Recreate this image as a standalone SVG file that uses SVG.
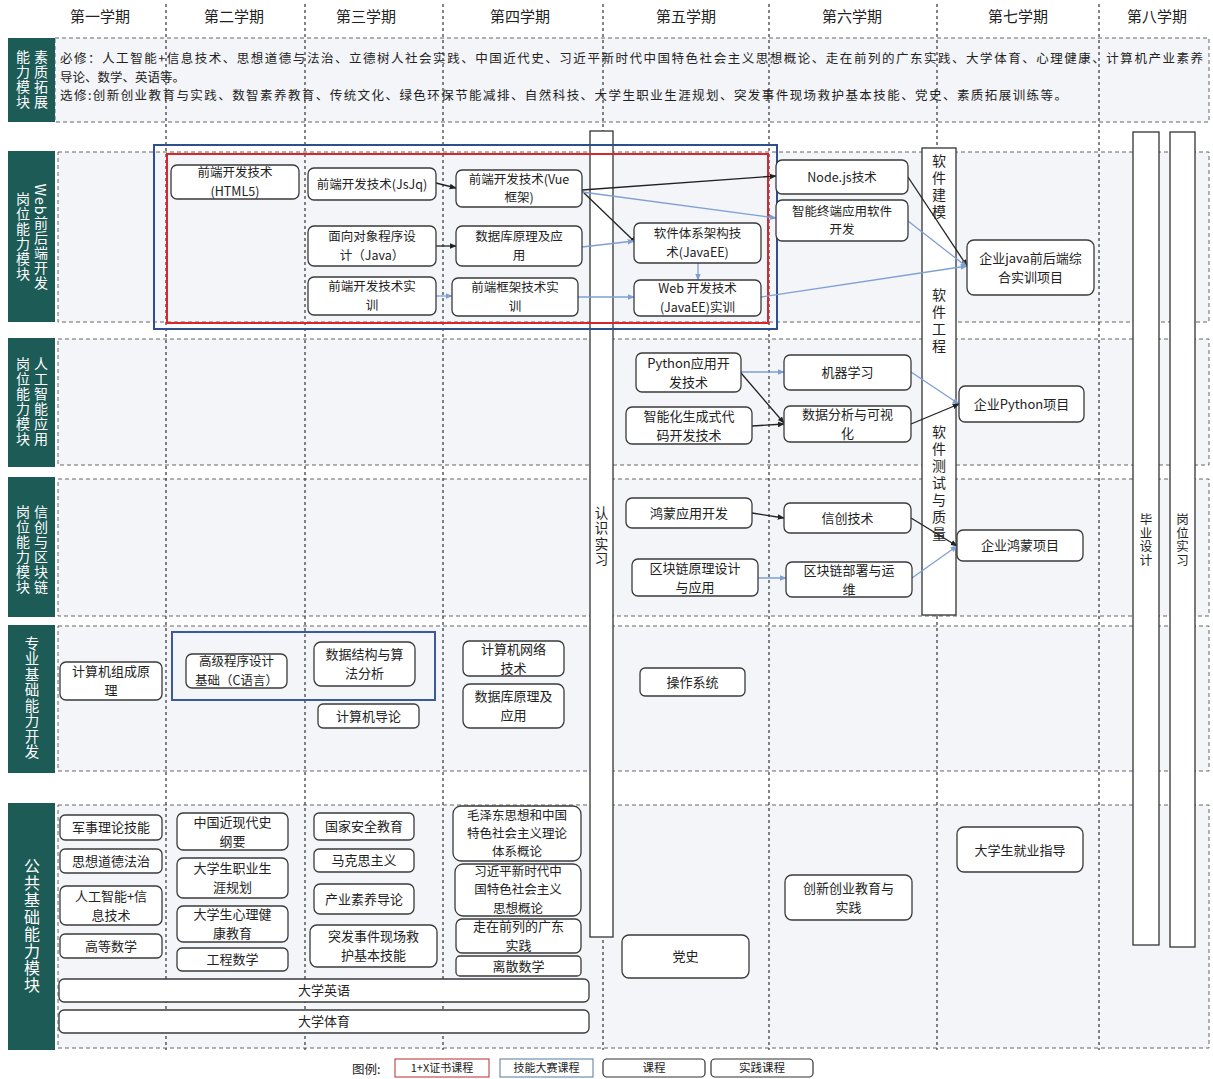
<svg xmlns="http://www.w3.org/2000/svg" width="1213" height="1079" viewBox="0 0 1213 1079">
<defs>
<style>
text{font-family:"Noto Sans CJK SC","Microsoft YaHei",sans-serif;fill:#222;}
.hd{font-size:15px;text-anchor:middle;}
.row{fill:#f3f5f8;stroke:#666;stroke-width:1;stroke-dasharray:4,3;}
.lab{fill:#1d5b57;}
.lt{fill:#fff;font-size:14px;writing-mode:vertical-rl;text-anchor:middle;letter-spacing:1px;}
.div{stroke:#333;stroke-width:1.2;stroke-dasharray:3,3;fill:none;}
.n{fill:#fff;stroke:#3a3a3a;stroke-width:1.3;}
.t{font-size:12.5px;text-anchor:middle;}
.tp{font-size:13px;text-anchor:middle;}
.bar{fill:#fff;stroke:#333;stroke-width:1.3;}
.bt{font-size:13px;writing-mode:vertical-rl;text-anchor:middle;}
.ck{stroke:#222;stroke-width:1.3;fill:none;marker-end:url(#ak);}
.cb{stroke:#7f9fd3;stroke-width:1.3;fill:none;marker-end:url(#abl);}
.sz{font-size:12.5px;}
</style>
<marker id="ak" viewBox="0 0 10 10" refX="9" refY="5" markerWidth="7" markerHeight="7" orient="auto" markerUnits="userSpaceOnUse"><path d="M0,1 L10,5 L0,9 z" fill="#222"/></marker>
<marker id="abl" viewBox="0 0 10 10" refX="9" refY="5" markerWidth="7" markerHeight="7" orient="auto" markerUnits="userSpaceOnUse"><path d="M0,1 L10,5 L0,9 z" fill="#7f9fd3"/></marker>
</defs>
<rect width="1213" height="1079" fill="#fff"/>

<!-- header -->
<g id="header">
<text class="hd" x="100" y="22">第一学期</text>
<text class="hd" x="234" y="22">第二学期</text>
<text class="hd" x="366" y="22">第三学期</text>
<text class="hd" x="520" y="22">第四学期</text>
<text class="hd" x="686" y="22">第五学期</text>
<text class="hd" x="852" y="22">第六学期</text>
<text class="hd" x="1018" y="22">第七学期</text>
<text class="hd" x="1157" y="22">第八学期</text>
</g>

<!-- row backgrounds -->
<g id="rows">
<rect class="row" x="55" y="38" width="1154" height="84"/>
<rect class="row" x="58" y="152" width="1151" height="170"/>
<rect class="row" x="58" y="339" width="1151" height="126"/>
<rect class="row" x="58" y="479" width="1151" height="137"/>
<rect class="row" x="58" y="626" width="1151" height="145"/>
<rect class="row" x="58" y="805" width="1151" height="243"/>
</g>

<!-- column dividers -->
<g id="dividers">
<line class="div" x1="166" y1="4" x2="166" y2="1050"/>
<line class="div" x1="305" y1="4" x2="305" y2="1050"/>
<line class="div" x1="443" y1="4" x2="443" y2="1050"/>
<line class="div" x1="603" y1="4" x2="603" y2="1050"/>
<line class="div" x1="769" y1="4" x2="769" y2="1050"/>
<line class="div" x1="937" y1="4" x2="937" y2="1050"/>
<line class="div" x1="1099" y1="4" x2="1099" y2="1050"/>
</g>

<!-- module labels -->
<g id="labels">
<rect class="lab" x="8" y="38" width="47" height="84"/>
<text class="lt" x="41" y="80">素质拓展</text>
<text class="lt" x="23" y="80">能力模块</text>
<rect class="lab" x="8" y="151" width="47" height="171"/>
<text class="lt" x="41" y="237">Web前后端开发</text>
<text class="lt" x="23" y="237">岗位能力模块</text>
<rect class="lab" x="8" y="338" width="47" height="129"/>
<text class="lt" x="41" y="402">人工智能应用</text>
<text class="lt" x="23" y="402">岗位能力模块</text>
<rect class="lab" x="8" y="477" width="47" height="140"/>
<text class="lt" x="41" y="550">信创与区块链</text>
<text class="lt" x="23" y="550">岗位能力模块</text>
<rect class="lab" x="8" y="625" width="47" height="148"/>
<text class="lt" x="32" y="698" style="font-size:14.5px">专业基础能力开发</text>
<rect class="lab" x="8" y="803" width="47" height="247"/>
<text class="lt" x="32" y="926" style="font-size:16px">公共基础能力模块</text>
</g>

<!-- quality row text -->
<g id="quality">
<text class="sz" x="60" y="63" textLength="1143" lengthAdjust="spacing">必修：人工智能+信息技术、思想道德与法治、立德树人社会实践、中国近代史、习近平新时代中国特色社会主义思想概论、走在前列的广东实践、大学体育、心理健康、计算机产业素养</text>
<text class="sz" x="60" y="81.5">导论、数学、英语等。</text>
<text class="sz" x="60" y="100" textLength="1007" lengthAdjust="spacing">选修:创新创业教育与实践、数智素养教育、传统文化、绿色环保节能减排、自然科技、大学生职业生涯规划、突发事件现场救护基本技能、党史、素质拓展训练等。</text>
</g>

<!-- vertical bars -->
<g id="bar-rzsx"><rect class="bar" x="590" y="131" width="23" height="806"/><text class="bt" x="601.5" y="537" style="font-size:13.5px;letter-spacing:2px">认识实习</text></g>
<g id="bar-rj"><rect class="bar" x="922" y="148" width="34" height="467"/>
<text class="bt" x="939" y="188" style="font-size:14px;letter-spacing:3px">软件建模</text>
<text class="bt" x="939" y="322" style="font-size:14px;letter-spacing:3px">软件工程</text>
<text class="bt" x="939" y="484" style="font-size:14px;letter-spacing:3px">软件测试与质量</text></g>
<g id="bar-bysj"><rect class="bar" x="1133" y="132" width="26" height="813"/><text class="bt" x="1146" y="540" style="font-size:12.5px;letter-spacing:1px">毕业设计</text></g>
<g id="bar-gwsx"><rect class="bar" x="1170" y="132" width="25" height="815"/><text class="bt" x="1182.5" y="540" style="font-size:12.5px;letter-spacing:1px">岗位实习</text></g>

<!-- highlight frames -->
<g id="frames">
<rect x="154" y="145" width="623" height="184" fill="none" stroke="#2e4f8e" stroke-width="2"/>
<rect x="167" y="154" width="601" height="169" fill="none" stroke="#d9262c" stroke-width="2"/>
<rect x="172" y="632" width="263" height="68" fill="none" stroke="#3a5a9a" stroke-width="2"/>
</g>

<!-- connectors -->
<g id="connectors">
<line class="ck" x1="436" y1="183" x2="456" y2="188"/>
<line class="ck" x1="436" y1="246" x2="456" y2="246"/>
<line class="ck" x1="582" y1="190" x2="776" y2="176"/>
<line class="ck" x1="582" y1="191" x2="636" y2="243"/>
<line class="cb" x1="582" y1="192" x2="776" y2="218"/>
<line class="cb" x1="582" y1="247" x2="634" y2="241"/>
<line class="cb" x1="698" y1="263" x2="698" y2="280"/>
<line class="cb" x1="436" y1="296" x2="452" y2="296"/>
<line class="cb" x1="578" y1="297" x2="634" y2="297"/>
<line class="cb" x1="761" y1="297" x2="967" y2="266"/>
<line class="ck" x1="908" y1="177" x2="967" y2="266"/>
<line class="cb" x1="908" y1="221" x2="967" y2="267"/>
<line class="cb" x1="741" y1="372" x2="784" y2="372"/>
<line class="ck" x1="741" y1="373" x2="784" y2="423"/>
<line class="ck" x1="752" y1="426" x2="784" y2="424"/>
<line class="cb" x1="911" y1="372" x2="959" y2="404"/>
<line class="ck" x1="911" y1="424" x2="959" y2="404"/>
<line class="ck" x1="752" y1="513" x2="784" y2="518"/>
<line class="cb" x1="748" y1="578" x2="786" y2="578"/>
<line class="ck" x1="911" y1="518" x2="957" y2="546"/>
<line class="cb" x1="912" y1="578" x2="957" y2="546"/>
</g>

<!-- web nodes -->
<g id="n-html5"><rect class="n" x="171" y="165" width="128" height="34" rx="6"/><text class="t" x="235" y="177.3">前端开发技术</text><text class="t" x="235" y="195.5">(HTML5)</text></g>
<g id="n-jsjq"><rect class="n" x="308" y="168" width="128" height="32" rx="6"/><text class="t" x="372" y="188.5">前端开发技术(JsJq)</text></g>
<g id="n-vue"><rect class="n" x="456" y="170" width="126" height="37" rx="6"/><text class="t" x="519" y="183.8">前端开发技术(Vue</text><text class="t" x="519" y="202">框架)</text></g>
<g id="n-oop"><rect class="n" x="308" y="226" width="128" height="40" rx="6"/><text class="t" x="372" y="241.3">面向对象程序设</text><text class="t" x="372" y="259.5">计（Java）</text></g>
<g id="n-db1"><rect class="n" x="456" y="226" width="126" height="40" rx="6"/><text class="t" x="519" y="241.3">数据库原理及应</text><text class="t" x="519" y="259.5">用</text></g>
<g id="n-arch"><rect class="n" x="634" y="223" width="127" height="40" rx="6"/><text class="t" x="697.5" y="238.3">软件体系架构技</text><text class="t" x="697.5" y="256.5">术(JavaEE)</text></g>
<g id="n-fesx"><rect class="n" x="308" y="277" width="128" height="38" rx="6"/><text class="t" x="372" y="291.3">前端开发技术实</text><text class="t" x="372" y="309.5">训</text></g>
<g id="n-fwsx"><rect class="n" x="452" y="278" width="126" height="38" rx="6"/><text class="t" x="515" y="292.3">前端框架技术实</text><text class="t" x="515" y="310.5">训</text></g>
<g id="n-web"><rect class="n" x="634" y="280" width="127" height="36" rx="6"/><text class="t" x="697.5" y="293.3">Web 开发技术</text><text class="t" x="697.5" y="311.5">(JavaEE)实训</text></g>
<g id="n-node"><rect class="n" x="776" y="160" width="132" height="34" rx="6"/><text class="t" x="842" y="181.5">Node.js技术</text></g>
<g id="n-term"><rect class="n" x="776" y="200" width="132" height="41" rx="6"/><text class="t" x="842" y="215.8">智能终端应用软件</text><text class="t" x="842" y="234">开发</text></g>
<g id="n-java"><rect class="n" x="967" y="240" width="127" height="55" rx="7"/><text class="tp" x="1030.5" y="262.6">企业java前后端综</text><text class="tp" x="1030.5" y="281.6">合实训项目</text></g>

<!-- AI nodes -->
<g id="n-py"><rect class="n" x="636" y="353" width="105" height="39" rx="6"/><text class="tp" x="688.5" y="367.6">Python应用开</text><text class="tp" x="688.5" y="386.6">发技术</text></g>
<g id="n-gen"><rect class="n" x="626" y="407" width="126" height="37" rx="6"/><text class="tp" x="689" y="420.6">智能化生成式代</text><text class="tp" x="689" y="439.6">码开发技术</text></g>
<g id="n-ml"><rect class="n" x="784" y="355" width="127" height="35" rx="6"/><text class="tp" x="847.5" y="377">机器学习</text></g>
<g id="n-da"><rect class="n" x="784" y="406" width="127" height="36" rx="6"/><text class="tp" x="847.5" y="419.1">数据分析与可视</text><text class="tp" x="847.5" y="438.1">化</text></g>
<g id="n-pyproj"><rect class="n" x="959" y="386" width="125" height="36" rx="6"/><text class="tp" x="1021.5" y="408.5">企业Python项目</text></g>

<!-- xinchuang nodes -->
<g id="n-hm"><rect class="n" x="626" y="498" width="126" height="30" rx="6"/><text class="tp" x="689" y="517.5">鸿蒙应用开发</text></g>
<g id="n-bc"><rect class="n" x="632" y="559" width="126" height="37" rx="6"/><text class="tp" x="695" y="572.6">区块链原理设计</text><text class="tp" x="695" y="591.6">与应用</text></g>
<g id="n-xc"><rect class="n" x="784" y="503" width="127" height="30" rx="6"/><text class="tp" x="847.5" y="522.5">信创技术</text></g>
<g id="n-bcd"><rect class="n" x="786" y="562" width="126" height="35" rx="6"/><text class="tp" x="849" y="574.6">区块链部署与运</text><text class="tp" x="849" y="593.6">维</text></g>
<g id="n-hmproj"><rect class="n" x="957" y="530" width="126" height="31" rx="6"/><text class="tp" x="1020" y="550">企业鸿蒙项目</text></g>

<!-- professional foundation nodes -->
<g id="n-zcyl"><rect class="n" x="60" y="662" width="102" height="38" rx="6"/><text class="tp" x="111" y="676.1">计算机组成原</text><text class="tp" x="111" y="695.1">理</text></g>
<g id="n-cyy"><rect class="n" x="186" y="654" width="101" height="34" rx="6"/><text class="t" x="236.5" y="666.3">高级程序设计</text><text class="t" x="236.5" y="684.5">基础（C语言）</text></g>
<g id="n-sjjg"><rect class="n" x="314" y="642" width="101" height="44" rx="7"/><text class="tp" x="364.5" y="659.1">数据结构与算</text><text class="tp" x="364.5" y="678.1">法分析</text></g>
<g id="n-jsjdl"><rect class="n" x="318" y="704" width="101" height="24" rx="5"/><text class="tp" x="368.5" y="720.5">计算机导论</text></g>
<g id="n-wl"><rect class="n" x="463" y="641" width="101" height="35" rx="6"/><text class="tp" x="513.5" y="653.6">计算机网络</text><text class="tp" x="513.5" y="672.6">技术</text></g>
<g id="n-db2"><rect class="n" x="463" y="684" width="101" height="44" rx="7"/><text class="tp" x="513.5" y="701.1">数据库原理及</text><text class="tp" x="513.5" y="720.1">应用</text></g>
<g id="n-os"><rect class="n" x="640" y="668" width="105" height="28" rx="5"/><text class="tp" x="692.5" y="686.5">操作系统</text></g>

<!-- public foundation nodes -->
<g id="n-js"><rect class="n" x="60" y="815" width="102" height="25" rx="5"/><text class="tp" x="111" y="832">军事理论技能</text></g>
<g id="n-sx"><rect class="n" x="60" y="849" width="102" height="24" rx="5"/><text class="tp" x="111" y="865.5">思想道德法治</text></g>
<g id="n-ai"><rect class="n" x="60" y="886" width="102" height="39" rx="6"/><text class="tp" x="111" y="900.6">人工智能+信</text><text class="tp" x="111" y="919.6">息技术</text></g>
<g id="n-gs"><rect class="n" x="60" y="934" width="102" height="24" rx="5"/><text class="tp" x="111" y="950.5">高等数学</text></g>
<g id="n-zgjxd"><rect class="n" x="177" y="813" width="111" height="37" rx="6"/><text class="tp" x="232.5" y="826.6">中国近现代史</text><text class="tp" x="232.5" y="845.6">纲要</text></g>
<g id="n-zysy"><rect class="n" x="177" y="858" width="111" height="40" rx="6"/><text class="tp" x="232.5" y="873.1">大学生职业生</text><text class="tp" x="232.5" y="892.1">涯规划</text></g>
<g id="n-xljk"><rect class="n" x="177" y="906" width="111" height="36" rx="6"/><text class="tp" x="232.5" y="919.1">大学生心理健</text><text class="tp" x="232.5" y="938.1">康教育</text></g>
<g id="n-gcsx"><rect class="n" x="177" y="948" width="111" height="23" rx="5"/><text class="tp" x="232.5" y="964">工程数学</text></g>
<g id="n-gjaq"><rect class="n" x="314" y="813" width="100" height="27" rx="5"/><text class="tp" x="364" y="831">国家安全教育</text></g>
<g id="n-mks"><rect class="n" x="314" y="849" width="100" height="23" rx="5"/><text class="tp" x="364" y="865">马克思主义</text></g>
<g id="n-cyss"><rect class="n" x="314" y="884" width="100" height="30" rx="6"/><text class="tp" x="364" y="903.5">产业素养导论</text></g>
<g id="n-tfsj"><rect class="n" x="310" y="925" width="127" height="42" rx="7"/><text class="tp" x="373.5" y="941.1">突发事件现场救</text><text class="tp" x="373.5" y="960.1">护基本技能</text></g>
<g id="n-mzd"><rect class="n" x="453" y="806" width="128" height="55" rx="8"/><text class="t" x="517" y="819.7">毛泽东思想和中国</text><text class="t" x="517" y="837.9">特色社会主义理论</text><text class="t" x="517" y="856.1">体系概论</text></g>
<g id="n-xjp"><rect class="n" x="455" y="864" width="126" height="52" rx="8"/><text class="t" x="518" y="876.2">习近平新时代中</text><text class="t" x="518" y="894.4">国特色社会主义</text><text class="t" x="518" y="912.6">思想概论</text></g>
<g id="n-gdsj"><rect class="n" x="456" y="919" width="125" height="34" rx="6"/><text class="tp" x="518.5" y="931.1">走在前列的广东</text><text class="tp" x="518.5" y="950.1">实践</text></g>
<g id="n-lssx"><rect class="n" x="456" y="956" width="125" height="20" rx="4"/><text class="tp" x="518.5" y="970.5">离散数学</text></g>
<g id="n-dxyy"><rect class="n" x="59" y="979" width="530" height="23" rx="5"/><text class="tp" x="324" y="995">大学英语</text></g>
<g id="n-dxty"><rect class="n" x="59" y="1010" width="530" height="23" rx="5"/><text class="tp" x="324" y="1026">大学体育</text></g>
<g id="n-ds"><rect class="n" x="622" y="935" width="127" height="43" rx="7"/><text class="tp" x="685.5" y="961">党史</text></g>
<g id="n-cxcy"><rect class="n" x="785" y="875" width="127" height="45" rx="7"/><text class="tp" x="848.5" y="892.6">创新创业教育与</text><text class="tp" x="848.5" y="911.6">实践</text></g>
<g id="n-jyzd"><rect class="n" x="957" y="827" width="126" height="45" rx="7"/><text class="tp" x="1020" y="854.5">大学生就业指导</text></g>

<!-- legend -->
<g id="legend">
<text x="352" y="1074" style="font-size:12.5px">图例:</text>
<rect x="395" y="1059" width="94" height="18" fill="#fff" stroke="#c0504d" stroke-width="1.2"/>
<text x="442" y="1072" style="font-size:11px;text-anchor:middle">1+X证书课程</text>
<rect x="500" y="1059" width="93" height="18" fill="#fff" stroke="#6f8fb0" stroke-width="1.2"/>
<text x="546.5" y="1072" style="font-size:11px;text-anchor:middle">技能大赛课程</text>
<rect x="603" y="1059" width="102" height="18" rx="4" fill="#fff" stroke="#333" stroke-width="1.2"/>
<text x="654" y="1072" style="font-size:11.5px;text-anchor:middle">课程</text>
<rect x="711" y="1059" width="102" height="18" rx="4" fill="#fff" stroke="#333" stroke-width="1.2"/>
<text x="762" y="1072" style="font-size:11.5px;text-anchor:middle">实践课程</text>
</g>
</svg>
